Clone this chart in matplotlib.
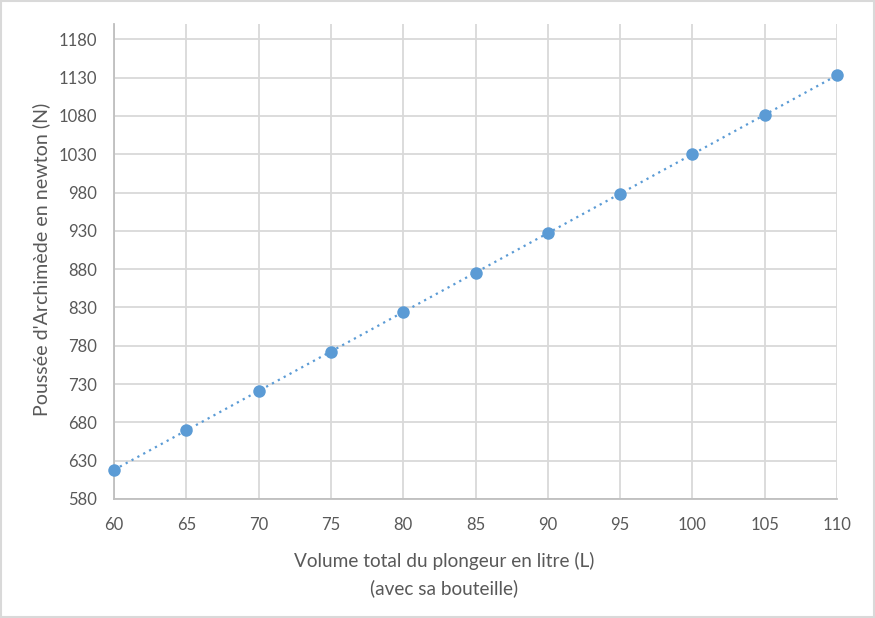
import matplotlib
matplotlib.use("Agg")
import matplotlib.pyplot as plt
import numpy as np

volumes = [60, 65, 70, 75, 80, 85, 90, 95, 100, 105, 110]
poussee = [618, 669.5, 721, 772.5, 824, 875.5, 927, 978.5, 1030, 1081.5, 1133]
yticks = list(range(580, 1181, 50))
xticks = list(range(60, 111, 5))

plt.rcParams['font.family'] = ['Lato', 'DejaVu Sans']
txt = '#595959'
grid = '#D9D9D9'
blue = '#5B9BD5'

fig = plt.figure(figsize=(8.75, 6.18), dpi=100)
ax = fig.add_axes([114/875, 1-499/618, (837-114)/875, (499-24)/618])

coef = np.polyfit(volumes, poussee, 1)
xs = np.array([volumes[0], volumes[-1]])
ax.plot(xs, np.polyval(coef, xs), linestyle=(0, (1, 2)), color=blue, linewidth=1.6, zorder=3, clip_on=False)
ax.plot(volumes, poussee, 'o', color=blue, markersize=9, zorder=4, markeredgewidth=0, clip_on=False)

ax.set_xlim(60, 110)
ax.set_ylim(580, 1200)
ax.set_xticks(xticks)
ax.set_yticks(yticks)
ax.grid(True, color=grid, linewidth=1.3, zorder=0)
ax.set_axisbelow(True)
for s in ['top', 'right']:
    ax.spines[s].set_visible(False)
for s in ['left', 'bottom']:
    ax.spines[s].set_color('#BFBFBF')
    ax.spines[s].set_linewidth(1.3)
ax.tick_params(length=0, labelsize=12, colors=txt)
ax.tick_params(axis='y', pad=12)
ax.tick_params(axis='x', pad=13)

renderer = fig.canvas.get_renderer()

def fit(t, target, vertical=False):
    ext = t.get_window_extent(renderer)
    size = ext.height if vertical else ext.width
    t.set_fontsize(t.get_fontsize() * target / size)
    return t.get_fontsize()

l1 = fig.text(444/875, 1-561/618, "Volume total du plongeur en litre (L)", fontsize=12, color=txt, ha='center', va='center')
fs = fit(l1, 300)
fig.text(444/875, 1-588/618, "(avec sa bouteille)", fontsize=fs, color=txt, ha='center', va='center')
yl = fig.text(41/875, 1-259/618, "Poussée d'Archimède en newton (N)", fontsize=12, color=txt, ha='center', va='center', rotation=90)
fit(yl, 312, vertical=True)

fig.add_artist(plt.Rectangle((0.001, 0.001), 0.998, 0.998, transform=fig.transFigure, fill=False, edgecolor='#D9D9D9', linewidth=1.5))

fig.savefig('out.png', dpi=100, facecolor='white')
